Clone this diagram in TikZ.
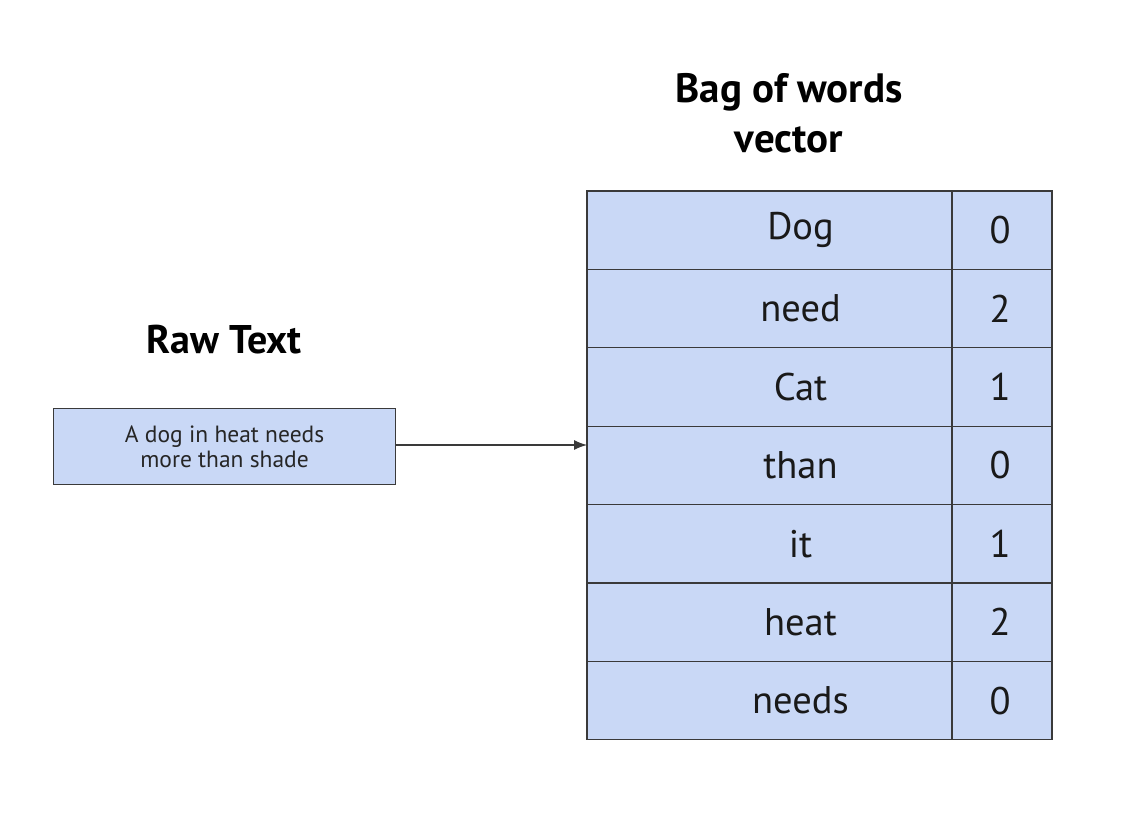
\documentclass[tikz,border=0pt]{standalone}
\usepackage{fontspec}
\setmainfont{PT Sans}
\usetikzlibrary{arrows.meta}
\definecolor{cellfill}{HTML}{C9D8F6}
\definecolor{edge}{HTML}{3A3A3A}
\tikzset{
  cell/.style={draw=edge, fill=cellfill, line width=1.2pt, minimum height=78.4pt, inner sep=0pt, outer sep=0pt, anchor=north west},
  word/.style={font=\fontsize{38.5}{44}\selectfont, text=black!90},
  title/.style={font=\bfseries\fontsize{41}{50}\selectfont, align=center}
}
\begin{document}
\begin{tikzpicture}[x=1pt,y=-1pt]
\useasboundingbox (0,0) rectangle (1127,813);
% raw text box
\node[draw=edge, fill=cellfill, line width=1.2pt, minimum width=342pt, minimum height=76pt, inner sep=0pt, anchor=north west,
      align=center, font=\fontsize{23.5}{25}\selectfont, text=black!85] (raw) at (53,408) {A dog in heat needs\\more than shade};
\node[font=\bfseries\fontsize{40}{44}\selectfont] (rawtitle) at (224,340) {Raw Text};
\node[title] (bagtitle) at (789,113) {Bag of words\\vector};
% table
\foreach \w/\n [count=\i from 0] in {Dog/0,need/2,Cat/1,than/0,it/1,heat/2,needs/0}{
  \node[cell, minimum width=365pt] (w\i) at (587,{191+78.4*\i}) {};
  \node[cell, minimum width=100pt] (n\i) at (952,{191+78.4*\i}) {};
  \node[word] (wt\i) at ([xshift=31pt]w\i.center) {\w};
  \node[word] (nt\i) at ([xshift=-2pt]n\i.center) {\n};
}
\coordinate (tin) at (587,445);
\draw[line width=1.2pt, draw=edge, -{Latex[length=13pt,width=10pt]}] (raw.east |- tin) -- (tin);
\end{tikzpicture}
\end{document}
